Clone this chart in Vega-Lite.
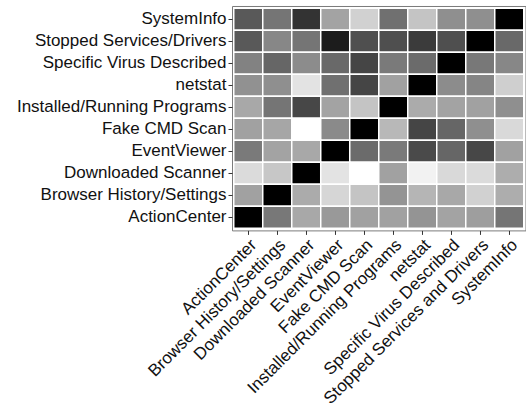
{
  "$schema": "https://vega.github.io/schema/vega-lite/v6.json",
  "autosize": "none",
  "padding": {"left": 232, "top": 6, "right": 0, "bottom": 181},
  "width": 293.5,
  "height": 224.4,
  "background": "white",
  "config": {
    "view": {"stroke": "#7a7a7a", "strokeWidth": 1},
    "font": "Liberation Sans",
    "axis": {
      "labelFont": "Liberation Sans",
      "labelFontSize": 17,
      "labelColor": "#111111",
      "labelLimit": 0,
      "labelOverlap": false,
      "tickColor": "#333333",
      "tickSize": 4,
      "tickWidth": 1,
      "domain": false,
      "grid": false,
      "title": null,
      "labelPadding": 2
    }
  },
  "data": {
    "values": [
      {"row": "SystemInfo", "col": "ActionCenter", "value": 0.65},
      {"row": "SystemInfo", "col": "Browser History/Settings", "value": 0.54},
      {"row": "SystemInfo", "col": "Downloaded Scanner", "value": 0.80},
      {"row": "SystemInfo", "col": "EventViewer", "value": 0.36},
      {"row": "SystemInfo", "col": "Fake CMD Scan", "value": 0.18},
      {"row": "SystemInfo", "col": "Installed/Running Programs", "value": 0.56},
      {"row": "SystemInfo", "col": "netstat", "value": 0.23},
      {"row": "SystemInfo", "col": "Specific Virus Described", "value": 0.44},
      {"row": "SystemInfo", "col": "Stopped Services and Drivers", "value": 0.44},
      {"row": "SystemInfo", "col": "SystemInfo", "value": 1.0},

      {"row": "Stopped Services/Drivers", "col": "ActionCenter", "value": 0.65},
      {"row": "Stopped Services/Drivers", "col": "Browser History/Settings", "value": 0.47},
      {"row": "Stopped Services/Drivers", "col": "Downloaded Scanner", "value": 0.54},
      {"row": "Stopped Services/Drivers", "col": "EventViewer", "value": 0.89},
      {"row": "Stopped Services/Drivers", "col": "Fake CMD Scan", "value": 0.69},
      {"row": "Stopped Services/Drivers", "col": "Installed/Running Programs", "value": 0.69},
      {"row": "Stopped Services/Drivers", "col": "netstat", "value": 0.77},
      {"row": "Stopped Services/Drivers", "col": "Specific Virus Described", "value": 0.69},
      {"row": "Stopped Services/Drivers", "col": "Stopped Services and Drivers", "value": 1.0},
      {"row": "Stopped Services/Drivers", "col": "SystemInfo", "value": 0.59},

      {"row": "Specific Virus Described", "col": "ActionCenter", "value": 0.49},
      {"row": "Specific Virus Described", "col": "Browser History/Settings", "value": 0.60},
      {"row": "Specific Virus Described", "col": "Downloaded Scanner", "value": 0.45},
      {"row": "Specific Virus Described", "col": "EventViewer", "value": 0.59},
      {"row": "Specific Virus Described", "col": "Fake CMD Scan", "value": 0.73},
      {"row": "Specific Virus Described", "col": "Installed/Running Programs", "value": 0.52},
      {"row": "Specific Virus Described", "col": "netstat", "value": 0.58},
      {"row": "Specific Virus Described", "col": "Specific Virus Described", "value": 1.0},
      {"row": "Specific Virus Described", "col": "Stopped Services and Drivers", "value": 0.53},
      {"row": "Specific Virus Described", "col": "SystemInfo", "value": 0.47},

      {"row": "netstat", "col": "ActionCenter", "value": 0.43},
      {"row": "netstat", "col": "Browser History/Settings", "value": 0.44},
      {"row": "netstat", "col": "Downloaded Scanner", "value": 0.11},
      {"row": "netstat", "col": "EventViewer", "value": 0.56},
      {"row": "netstat", "col": "Fake CMD Scan", "value": 0.73},
      {"row": "netstat", "col": "Installed/Running Programs", "value": 0.37},
      {"row": "netstat", "col": "netstat", "value": 1.0},
      {"row": "netstat", "col": "Specific Virus Described", "value": 0.45},
      {"row": "netstat", "col": "Stopped Services and Drivers", "value": 0.48},
      {"row": "netstat", "col": "SystemInfo", "value": 0.19},

      {"row": "Installed/Running Programs", "col": "ActionCenter", "value": 0.34},
      {"row": "Installed/Running Programs", "col": "Browser History/Settings", "value": 0.54},
      {"row": "Installed/Running Programs", "col": "Downloaded Scanner", "value": 0.72},
      {"row": "Installed/Running Programs", "col": "EventViewer", "value": 0.36},
      {"row": "Installed/Running Programs", "col": "Fake CMD Scan", "value": 0.23},
      {"row": "Installed/Running Programs", "col": "Installed/Running Programs", "value": 1.0},
      {"row": "Installed/Running Programs", "col": "netstat", "value": 0.33},
      {"row": "Installed/Running Programs", "col": "Specific Virus Described", "value": 0.36},
      {"row": "Installed/Running Programs", "col": "Stopped Services and Drivers", "value": 0.37},
      {"row": "Installed/Running Programs", "col": "SystemInfo", "value": 0.44},

      {"row": "Fake CMD Scan", "col": "ActionCenter", "value": 0.37},
      {"row": "Fake CMD Scan", "col": "Browser History/Settings", "value": 0.35},
      {"row": "Fake CMD Scan", "col": "Downloaded Scanner", "value": 0.0},
      {"row": "Fake CMD Scan", "col": "EventViewer", "value": 0.46},
      {"row": "Fake CMD Scan", "col": "Fake CMD Scan", "value": 1.0},
      {"row": "Fake CMD Scan", "col": "Installed/Running Programs", "value": 0.28},
      {"row": "Fake CMD Scan", "col": "netstat", "value": 0.73},
      {"row": "Fake CMD Scan", "col": "Specific Virus Described", "value": 0.60},
      {"row": "Fake CMD Scan", "col": "Stopped Services and Drivers", "value": 0.44},
      {"row": "Fake CMD Scan", "col": "SystemInfo", "value": 0.15},

      {"row": "EventViewer", "col": "ActionCenter", "value": 0.52},
      {"row": "EventViewer", "col": "Browser History/Settings", "value": 0.36},
      {"row": "EventViewer", "col": "Downloaded Scanner", "value": 0.34},
      {"row": "EventViewer", "col": "EventViewer", "value": 1.0},
      {"row": "EventViewer", "col": "Fake CMD Scan", "value": 0.58},
      {"row": "EventViewer", "col": "Installed/Running Programs", "value": 0.52},
      {"row": "EventViewer", "col": "netstat", "value": 0.71},
      {"row": "EventViewer", "col": "Specific Virus Described", "value": 0.60},
      {"row": "EventViewer", "col": "Stopped Services and Drivers", "value": 0.72},
      {"row": "EventViewer", "col": "SystemInfo", "value": 0.37},

      {"row": "Downloaded Scanner", "col": "ActionCenter", "value": 0.14},
      {"row": "Downloaded Scanner", "col": "Browser History/Settings", "value": 0.22},
      {"row": "Downloaded Scanner", "col": "Downloaded Scanner", "value": 1.0},
      {"row": "Downloaded Scanner", "col": "EventViewer", "value": 0.11},
      {"row": "Downloaded Scanner", "col": "Fake CMD Scan", "value": 0.0},
      {"row": "Downloaded Scanner", "col": "Installed/Running Programs", "value": 0.37},
      {"row": "Downloaded Scanner", "col": "netstat", "value": 0.05},
      {"row": "Downloaded Scanner", "col": "Specific Virus Described", "value": 0.15},
      {"row": "Downloaded Scanner", "col": "Stopped Services and Drivers", "value": 0.14},
      {"row": "Downloaded Scanner", "col": "SystemInfo", "value": 0.32},

      {"row": "Browser History/Settings", "col": "ActionCenter", "value": 0.37},
      {"row": "Browser History/Settings", "col": "Browser History/Settings", "value": 1.0},
      {"row": "Browser History/Settings", "col": "Downloaded Scanner", "value": 0.33},
      {"row": "Browser History/Settings", "col": "EventViewer", "value": 0.16},
      {"row": "Browser History/Settings", "col": "Fake CMD Scan", "value": 0.23},
      {"row": "Browser History/Settings", "col": "Installed/Running Programs", "value": 0.42},
      {"row": "Browser History/Settings", "col": "netstat", "value": 0.29},
      {"row": "Browser History/Settings", "col": "Specific Virus Described", "value": 0.34},
      {"row": "Browser History/Settings", "col": "Stopped Services and Drivers", "value": 0.18},
      {"row": "Browser History/Settings", "col": "SystemInfo", "value": 0.32},

      {"row": "ActionCenter", "col": "ActionCenter", "value": 1.0},
      {"row": "ActionCenter", "col": "Browser History/Settings", "value": 0.53},
      {"row": "ActionCenter", "col": "Downloaded Scanner", "value": 0.34},
      {"row": "ActionCenter", "col": "EventViewer", "value": 0.40},
      {"row": "ActionCenter", "col": "Fake CMD Scan", "value": 0.37},
      {"row": "ActionCenter", "col": "Installed/Running Programs", "value": 0.37},
      {"row": "ActionCenter", "col": "netstat", "value": 0.42},
      {"row": "ActionCenter", "col": "Specific Virus Described", "value": 0.36},
      {"row": "ActionCenter", "col": "Stopped Services and Drivers", "value": 0.38},
      {"row": "ActionCenter", "col": "SystemInfo", "value": 0.54}
    ]
  },
  "mark": {"type": "rect", "stroke": "white", "strokeWidth": 1.5},
  "encoding": {
    "x": {
      "field": "col",
      "type": "nominal",
      "sort": ["ActionCenter", "Browser History/Settings", "Downloaded Scanner", "EventViewer", "Fake CMD Scan", "Installed/Running Programs", "netstat", "Specific Virus Described", "Stopped Services and Drivers", "SystemInfo"],
      "scale": {"paddingInner": 0, "paddingOuter": 0.06},
      "axis": {"labelAngle": -45, "labelAlign": "right", "labelBaseline": "top", "orient": "bottom"}
    },
    "y": {
      "field": "row",
      "type": "nominal",
      "sort": ["SystemInfo", "Stopped Services/Drivers", "Specific Virus Described", "netstat", "Installed/Running Programs", "Fake CMD Scan", "EventViewer", "Downloaded Scanner", "Browser History/Settings", "ActionCenter"],
      "scale": {"paddingInner": 0, "paddingOuter": 0.1},
      "axis": {"labelAlign": "right", "labelBaseline": "middle"}
    },
    "color": {
      "field": "value",
      "type": "quantitative",
      "scale": {"domain": [0, 1], "range": ["white", "black"], "interpolate": "rgb"},
      "legend": null
    }
  }
}
